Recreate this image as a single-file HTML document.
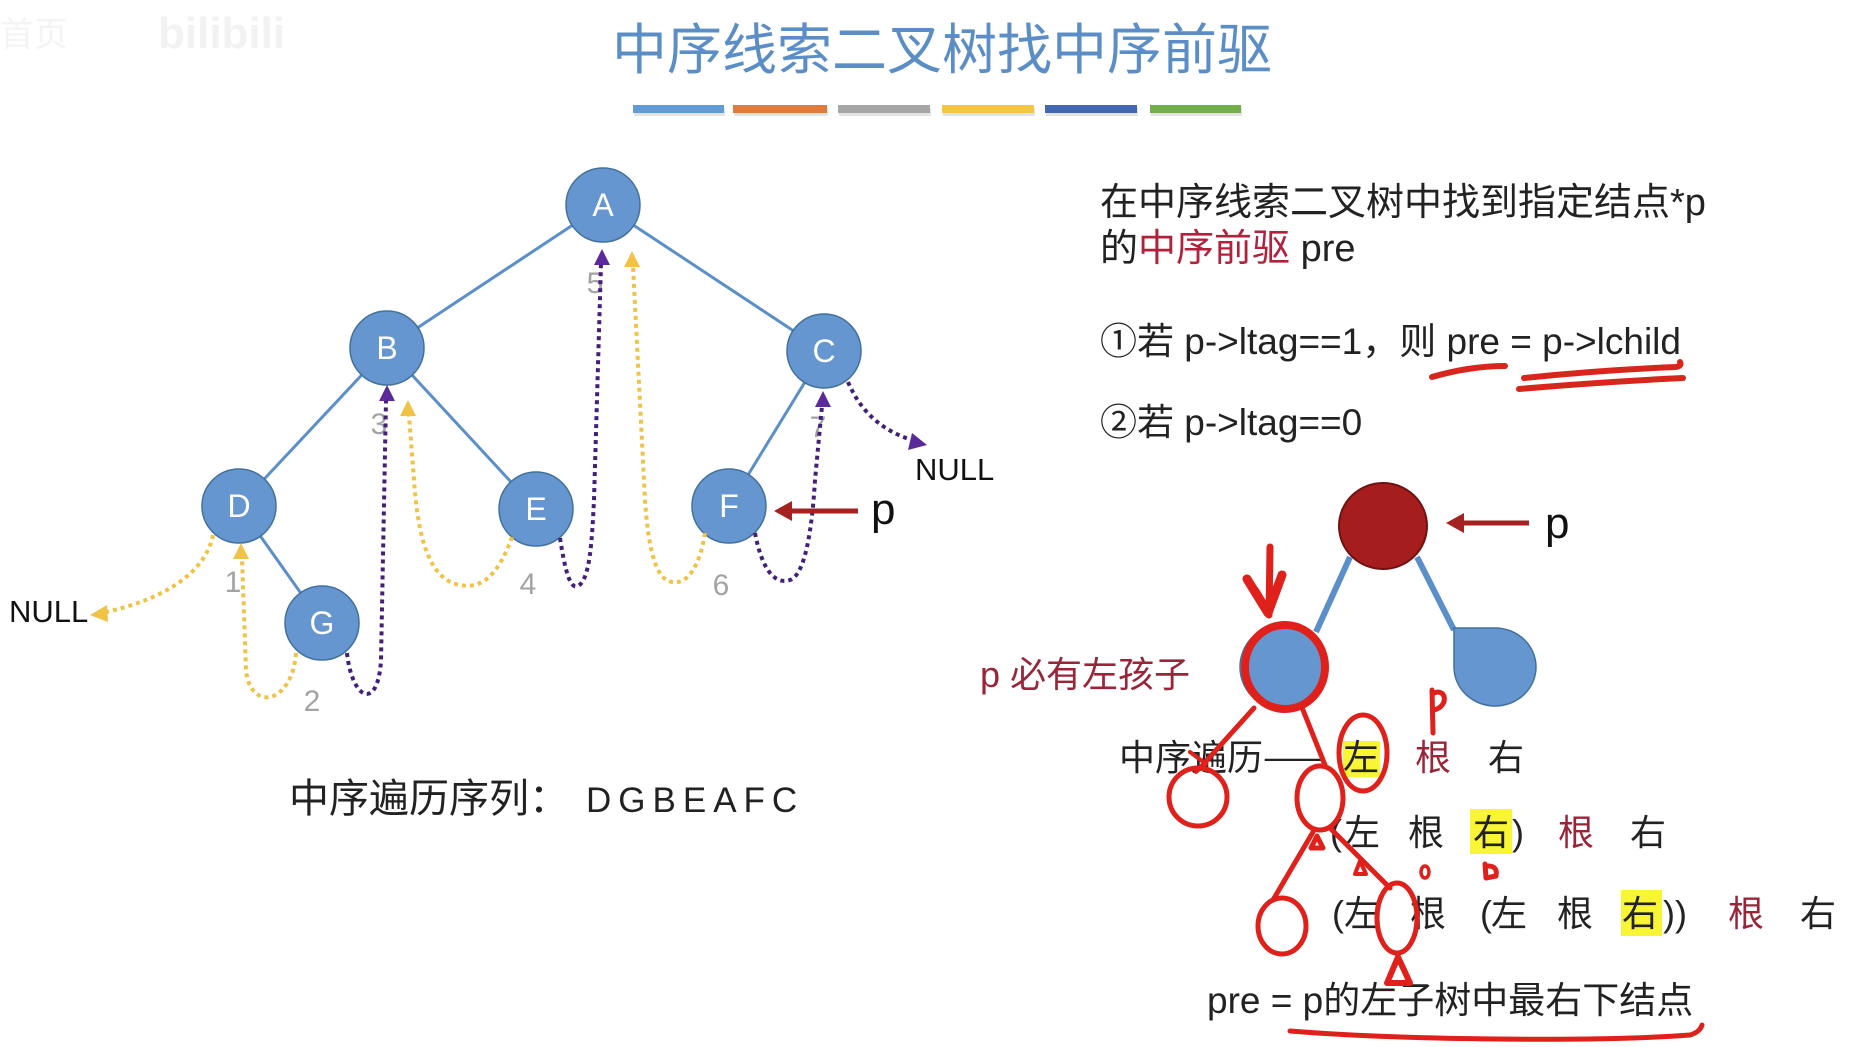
<!DOCTYPE html>
<html><head><meta charset="utf-8">
<style>
html,body{margin:0;padding:0;background:#fff;width:1851px;height:1047px;overflow:hidden}
svg{display:block}
text{font-family:"Liberation Sans","Noto Sans CJK SC",sans-serif}
.cjk{font-family:"Noto Sans CJK SC","Liberation Sans",sans-serif}
</style></head>
<body>
<svg width="1851" height="1047" viewBox="0 0 1851 1047" xmlns="http://www.w3.org/2000/svg">
<!-- watermark -->
<text x="0" y="46" font-size="34" fill="#f4f4f4" class="cjk">首页</text>
<text x="158" y="48" font-size="44" font-weight="bold" fill="#f2f2f2">bilibili</text>

<!-- title -->
<text x="612" y="69" font-size="55" fill="#5b8ec6" class="cjk">中序线索二叉树找中序前驱</text>
<!-- color bars -->
<g>
<rect x="634" y="108" width="91" height="8" fill="#e3e3e3"/>
<rect x="734" y="108" width="94" height="8" fill="#e3e3e3"/>
<rect x="839" y="108" width="92" height="8" fill="#e3e3e3"/>
<rect x="943" y="108" width="92" height="8" fill="#e3e3e3"/>
<rect x="1046" y="108" width="92" height="8" fill="#e3e3e3"/>
<rect x="1151" y="108" width="91" height="8" fill="#e3e3e3"/>
<rect x="633" y="105" width="91" height="8" fill="#629bd4"/>
<rect x="733" y="105" width="94" height="8" fill="#dd7c3c"/>
<rect x="838" y="105" width="92" height="8" fill="#a6a6a6"/>
<rect x="942" y="105" width="92" height="8" fill="#f3c644"/>
<rect x="1045" y="105" width="92" height="8" fill="#4467b2"/>
<rect x="1150" y="105" width="91" height="8" fill="#72ae4a"/>
</g>

<!-- tree edges -->
<g stroke="#5b8fc9" stroke-width="3">
<line x1="603" y1="205" x2="387" y2="348"/>
<line x1="603" y1="205" x2="824" y2="351"/>
<line x1="387" y1="348" x2="239" y2="506"/>
<line x1="387" y1="348" x2="536" y2="509"/>
<line x1="824" y1="351" x2="729" y2="506"/>
<line x1="239" y1="506" x2="322" y2="623"/>
</g>
<!-- nodes -->
<g fill="#6596d0" stroke="#41719c" stroke-width="1.5">
<circle cx="603" cy="205" r="37"/>
<circle cx="387" cy="348" r="37"/>
<circle cx="824" cy="351" r="37"/>
<circle cx="239" cy="506" r="37"/>
<circle cx="536" cy="509" r="37"/>
<circle cx="729" cy="506" r="37"/>
<circle cx="322" cy="623" r="37"/>
</g>
<g fill="#fff" font-size="32" text-anchor="middle">
<text x="603" y="216">A</text>
<text x="387" y="359">B</text>
<text x="824" y="362">C</text>
<text x="239" y="517">D</text>
<text x="536" y="520">E</text>
<text x="729" y="517">F</text>
<text x="322" y="634">G</text>
</g>

<!-- numbers -->
<g fill="#a3a3a3" font-size="30" text-anchor="middle">
<text x="233" y="592">1</text>
<text x="312" y="711">2</text>
<text x="379" y="434">3</text>
<text x="528" y="594">4</text>
<text x="595" y="293">5</text>
<text x="721" y="595">6</text>
<text x="818" y="437">7</text>
</g>

<!-- dotted thread arrows -->
<g fill="none" stroke-width="4" stroke-dasharray="4 4">
<path stroke="#f0c246" d="M213,535 C205,575 160,600 106,612"/>
<path stroke="#f0c246" d="M296,653 C292,705 250,712 246,670 L242,558"/>
<path stroke="#42207a" d="M347,653 C352,700 378,712 381,660 L386,400"/>
<path stroke="#f0c246" d="M512,537 C500,570 485,590 460,585 C430,580 418,540 414,480 L409,416"/>
<path stroke="#42207a" d="M560,538 C565,570 570,590 578,586 C590,580 592,540 594,500 L601,264"/>
<path stroke="#f0c246" d="M705,533 C700,565 688,585 672,582 C655,580 648,545 645,500 L633,266"/>
<path stroke="#42207a" d="M755,533 C762,570 775,585 790,580 C805,575 812,530 815,480 L822,406"/>
<path stroke="#42207a" d="M848,382 C860,410 880,430 912,440"/>
</g>
<g>
<polygon fill="#f0c246" points="90,615 107,605 108,622"/>
<polygon fill="#f0c246" points="241,543 233,559 249,559"/>
<polygon fill="#5b2a9a" points="387,385 379,401 395,401"/>
<polygon fill="#f0c246" points="408,400 400,416 416,416"/>
<polygon fill="#5b2a9a" points="602,249 594,265 610,265"/>
<polygon fill="#f0c246" points="632,251 624,267 640,267"/>
<polygon fill="#5b2a9a" points="823,391 815,407 831,407"/>
<polygon fill="#5b2a9a" points="927,445 912,433 908,450"/>
</g>

<text x="9" y="622" font-size="31" fill="#111">NULL</text>
<text x="915" y="480" font-size="31" fill="#111">NULL</text>

<!-- p arrow left tree -->
<line x1="858" y1="511" x2="790" y2="511" stroke="#a52222" stroke-width="5"/>
<polygon fill="#a52222" points="774,511 792,501 792,521"/>
<text x="871" y="524" font-size="44" fill="#111">p</text>

<!-- sequence -->
<text x="289" y="812" font-size="40" fill="#222" class="cjk">中序遍历序列：</text>
<text x="586" y="812" font-size="35" fill="#222" letter-spacing="7">DGBEAFC</text>

<!-- right text -->
<text x="1100" y="215" font-size="38" fill="#222">在中序线索二叉树中找到指定结点*p</text>
<text x="1100" y="261" font-size="38" fill="#222">的<tspan fill="#b0223c">中序前驱</tspan> pre</text>
<text x="1100" y="354" font-size="37" fill="#222">①若 p-&gt;ltag==1，则 pre = p-&gt;lchild</text>
<text x="1100" y="435" font-size="37" fill="#222">②若 p-&gt;ltag==0</text>

<g fill="none" stroke="#d9261c" stroke-width="6" stroke-linecap="round">
<path d="M1432,377 Q1470,366 1505,366"/>
<path d="M1524,378 Q1600,370 1676,367 Q1682,366 1680,362"/>
<path d="M1519,389 Q1600,382 1683,378"/>
</g>

<!-- right diagram -->
<g stroke="#5b8fc9" stroke-width="6">
<line x1="1350" y1="557" x2="1316" y2="632"/>
<line x1="1417" y1="557" x2="1454" y2="630"/>
</g>
<ellipse cx="1383" cy="526" rx="44" ry="43" fill="#a61d1d" stroke="#701212" stroke-width="2"/>
<line x1="1529" y1="523" x2="1462" y2="523" stroke="#a52222" stroke-width="5"/>
<polygon fill="#a52222" points="1446,523 1464,513 1464,533"/>
<text x="1545" y="538" font-size="44" fill="#111">p</text>

<circle cx="1282" cy="667" r="42" fill="#6596d0" stroke="#41719c" stroke-width="1.5"/>
<path d="M1454,628 L1495,628 A41,39 0 0 1 1536,667 A41,39 0 0 1 1495,706 A41,39 0 0 1 1454,667 Z" fill="#6596d0" stroke="#41719c" stroke-width="1.5"/>

<text x="980" y="687" font-size="36" fill="#9a2438">p 必有左孩子</text>

<!-- highlights -->
<rect x="1343" y="741" width="37" height="36" fill="#f7f534"/>
<rect x="1470" y="809" width="42" height="45" fill="#f7f534"/>
<rect x="1621" y="890" width="41" height="46" fill="#f7f534"/>

<!-- rows -->
<g font-size="36" fill="#222">
<text x="1119" y="770" class="cjk">中序遍历——</text>
<text x="1343" y="770" class="cjk">左</text>
<text x="1415" y="770" class="cjk" fill="#9a2438">根</text>
<text x="1488" y="770" class="cjk">右</text>

<text x="1330" y="845">(</text>
<text x="1344" y="845" class="cjk">左</text>
<text x="1408" y="845" class="cjk">根</text>
<text x="1473" y="845" class="cjk">右</text>
<text x="1512" y="845">)</text>
<text x="1558" y="845" class="cjk" fill="#9a2438">根</text>
<text x="1630" y="845" class="cjk">右</text>

<text x="1332" y="926">(</text>
<text x="1344" y="926" class="cjk">左</text>
<text x="1410" y="926" class="cjk">根</text>
<text x="1480" y="926">(</text>
<text x="1491" y="926" class="cjk">左</text>
<text x="1557" y="926" class="cjk">根</text>
<text x="1622" y="926" class="cjk">右</text>
<text x="1663" y="926">))</text>
<text x="1728" y="926" class="cjk" fill="#9a2438">根</text>
<text x="1800" y="926" class="cjk">右</text>
</g>
<text x="1207" y="1013" font-size="37" fill="#222">pre = p的左子树中最右下结点</text>

<!-- hand drawn annotations -->
<g fill="none" stroke="#e0201a" stroke-linecap="round" stroke-linejoin="round">
<path stroke-width="7" d="M1270,547 L1269,615"/>
<path stroke-width="9" d="M1247,579 L1268,613 L1282,575"/>
<path stroke-width="6" d="M1256,590 L1268,610 L1276,590"/>
<ellipse cx="1285" cy="667" rx="40" ry="42" stroke-width="8"/>
<path stroke-width="5" d="M1254,708 L1200,768"/>
<path stroke-width="4" d="M1190,752 L1206,764 L1196,772"/>
<ellipse cx="1198" cy="797" rx="29" ry="29" stroke-width="5"/>
<path stroke-width="5" d="M1303,710 L1325,765"/>
<ellipse cx="1320" cy="798" rx="23" ry="32" stroke-width="5"/>
<ellipse cx="1363" cy="753" rx="24" ry="38" stroke-width="5"/>
<path stroke-width="5" d="M1432,690 L1433,733 M1432,694 C1446,686 1450,706 1434,710"/>
<path stroke-width="5" d="M1317,836 L1311,848 L1323,848 Z"/>
<path stroke-width="5" d="M1313,832 L1273,900"/>
<ellipse cx="1282" cy="926" rx="24" ry="28" stroke-width="5"/>
<path stroke-width="5" d="M1330,828 L1390,888"/>
<ellipse cx="1397" cy="918" rx="20" ry="35" stroke-width="5"/>
<path stroke-width="6" d="M1398,957 L1387,983 L1410,983 Z"/>
<path stroke-width="4" d="M1360,861 L1355,874 L1366,874 Z"/>
<ellipse cx="1425" cy="872" rx="4" ry="6" stroke-width="3.5"/>
<path stroke-width="5" d="M1485,864 L1486,878 L1496,876 Q1498,866 1488,866"/>
<path stroke-width="5" d="M1290,1031 C1400,1040 1600,1042 1690,1035 Q1700,1032 1702,1025"/>
</g>
</svg>
</body></html>
